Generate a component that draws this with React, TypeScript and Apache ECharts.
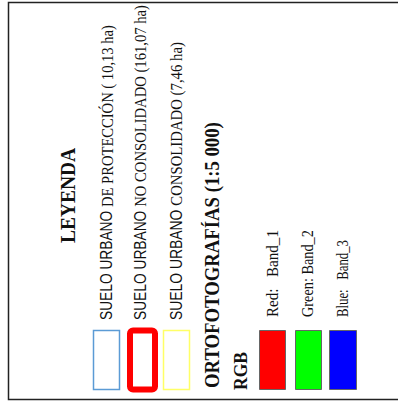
import React, { useEffect, useRef } from 'react';
import * as echarts from 'echarts';

const titleText = 'LEYENDA';
const zonePrefix = 'SUELO URBANO ';
const zoneNames = ['DE PROTECCIÓN ( 10,13 ha)', 'NO CONSOLIDADO (161,07 ha)', 'CONSOLIDADO (7,46 ha)'];
const zoneColors = ['#5b9bd5', '#ff0000', '#ffff66'];
const orthoTitle = 'ORTOFOTOGRAFÍAS (1:5 000)';
const rgbTitle = 'RGB';
const bandLabels = ['Red:   Band_1', 'Green: Band_2', 'Blue:   Band_3'];
const bandColors = ['#ff0000', '#00ff00', '#0000ff'];

const SANS = '"Liberation Sans", Arial, sans-serif';
const SERIF = '"Liberation Serif", "Times New Roman", serif';

let ctx: CanvasRenderingContext2D | null = null;
function measure(text: string, font: string): number {
  if (!ctx) ctx = document.createElement('canvas').getContext('2d');
  ctx!.font = font;
  return ctx!.measureText(text).width;
}

type Part = { text: string; size: number; family: string; weight: string };

function vText(x: number, yBottom: number, length: number, parts: Part[]) {
  const rich: any = {};
  let str = '';
  let w = 0;
  parts.forEach((p, i) => {
    rich['p' + i] = { fontSize: p.size, fontFamily: p.family, fontWeight: p.weight, fill: '#111' };
    str += `{p${i}|${p.text}}`;
    w += measure(p.text, `${p.weight} ${p.size}px ${p.family}`);
  });
  return {
    type: 'text',
    x,
    y: yBottom,
    rotation: Math.PI / 2,
    scaleX: length / w,
    style: {
      text: str,
      rich,
      fill: '#111',
      textAlign: 'left',
      textVerticalAlign: 'middle',
      align: 'left',
      verticalAlign: 'middle',
    },
  };
}

export default function App() {
  const ref = useRef<HTMLDivElement>(null);
  useEffect(() => {
    document.body.style.margin = '0';
    const chart = echarts.init(ref.current!, null, { renderer: 'svg' });
    const elements: any[] = [];
    elements.push({
      type: 'rect',
      shape: { x: 8.5, y: 2.5, width: 400, height: 397 },
      style: { fill: '#fff', stroke: '#222', lineWidth: 1.5 },
    });
    elements.push(vText(68, 243, 95, [{ text: titleText, size: 22, family: SERIF, weight: 'bold' }]));
    const zoneX = [107, 140, 176];
    const zoneLen = [295, 315, 278];
    const zoneBoxes = [
      { x: 93.5, w: 26, lw: 1.5, r: 0 },
      { x: 130, w: 25, lw: 6, r: 3 },
      { x: 163.5, w: 26, lw: 1.5, r: 0 },
    ];
    zoneNames.forEach((name, i) => {
      elements.push(
        vText(zoneX[i], 320, zoneLen[i], [
          { text: zonePrefix, size: 16, family: SANS, weight: 'normal' },
          { text: name, size: 17, family: SERIF, weight: 'normal' },
        ])
      );
      const b = zoneBoxes[i];
      elements.push({
        type: 'rect',
        shape: { x: b.x, y: 330.5, width: b.w, height: 59, r: b.r },
        style: { fill: 'none', stroke: zoneColors[i], lineWidth: b.lw },
      });
    });
    elements.push(vText(212, 388, 266, [{ text: orthoTitle, size: 21, family: SERIF, weight: 'bold' }]));
    elements.push(vText(241, 390, 38, [{ text: rgbTitle, size: 19, family: SERIF, weight: 'bold' }]));
    const bandX = [272, 307, 342];
    const bandLen = [87, 87, 77];
    const bandBoxX = [259.5, 295.5, 329.5];
    const bandBoxW = [26, 26, 27];
    bandLabels.forEach((label, i) => {
      elements.push(vText(bandX[i], 317, bandLen[i], [{ text: label, size: 16, family: SERIF, weight: 'normal' }]));
      elements.push({
        type: 'rect',
        shape: { x: bandBoxX[i], y: 330.5, width: bandBoxW[i], height: 59 },
        style: { fill: bandColors[i], stroke: '#666', lineWidth: 1 },
      });
    });
    chart.setOption({ animation: false, backgroundColor: '#fff', graphic: { elements } });
    return () => chart.dispose();
  }, []);
  return <div ref={ref} style={{ position: 'absolute', left: 0, top: 0, width: 398, height: 405 }} />;
}
